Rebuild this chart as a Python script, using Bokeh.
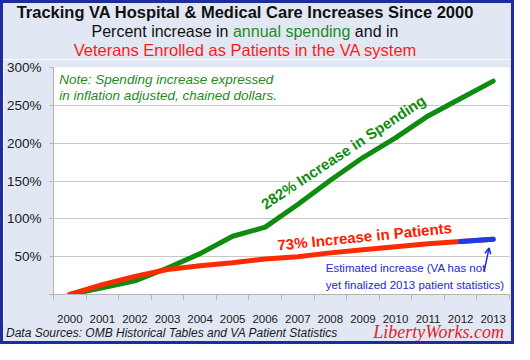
from bokeh.plotting import figure
from bokeh.models import FixedTicker, Label, Arrow, OpenHead, Div
from bokeh.layouts import column, row
from bokeh.embed import file_html
from bokeh.resources import INLINE

years = [2000, 2001, 2002, 2003, 2004, 2005, 2006, 2007, 2008, 2009, 2010, 2011, 2012, 2013]
spending = [0, 9, 18, 35, 54, 77, 89, 119, 151, 181, 207, 236, 259, 282]
patients = [0, 13, 24, 33, 38, 42, 47, 50, 55, 59, 63, 67, 70, 73]
est_years = [2012, 2013]
est_patients = [70, 73]
y_ticks = [0, 50, 100, 150, 200, 250, 300]
y_tick_labels = ["", "50%", "100%", "150%", "200%", "250%", "300%"]

FONT = "Liberation Sans"
BG = "#e2e8f3"
EDGE = "#1f2d9c"
BW = 3
TOTAL_W, TOTAL_H = 514, 344
IW, IH = TOTAL_W - 2 * BW, TOTAL_H - 2 * BW
TITLE_H, FOOT_H = 56, 16
W, H = IW, IH - TITLE_H - FOOT_H
L, R, T, B = 45, 506, 8, 238

title_html = (
    f'<div style="width:{IW - 12}px;padding-right:12px;text-align:center;font-family:\'{FONT}\';padding-top:0px;">'
    '<div style="font-size:16.5px;font-weight:bold;line-height:19px;color:#111;">'
    'Tracking VA Hospital &amp; Medical Care Increases Since 2000</div>'
    '<div style="font-size:16px;line-height:19px;color:#111;">Percent increase in '
    '<span style="color:#1e8c1e;">annual spending</span> and in</div>'
    '<div style="font-size:16.5px;line-height:19px;color:#ff1a1a;">'
    'Veterans Enrolled as Patients in the VA system</div></div>'
)
title_div = Div(text=title_html, width=IW, height=TITLE_H, margin=0,
                styles={"background-color": BG})

foot_html = (
    f'<div style="width:{IW}px;height:{FOOT_H}px;position:relative;">'
    f'<span style="position:absolute;left:3px;top:1px;line-height:14px;font-family:\'{FONT}\';'
    'font-style:italic;font-size:12px;color:#1a1a1a;">'
    'Data Sources: OMB Historical Tables and VA Patient Statistics</span>'
    '<span style="position:absolute;right:7px;top:-3px;line-height:20px;font-family:\'Liberation Serif\';'
    'font-style:italic;font-size:18px;color:#e8202a;">LibertyWorks.com</span></div>'
)
foot_div = Div(text=foot_html, width=IW, height=FOOT_H, margin=0,
               styles={"background-color": BG})

p = figure(width=W, height=H, output_backend="svg", toolbar_location=None,
           x_range=(years[0] - 0.5, years[-1] + 0.5), y_range=(0, 300),
           min_border_left=L, min_border_right=W - R, min_border_top=T,
           min_border_bottom=H - B,
           background_fill_color="white", border_fill_color=BG,
           outline_line_color=None)

# x axis: labels at category centres, tick marks at category boundaries
p.xaxis.ticker = FixedTicker(ticks=years, minor_ticks=[y - 0.5 for y in years] + [years[-1] + 0.5])
p.xaxis.major_label_overrides = {y: str(y) for y in years}
p.xaxis.major_tick_out = 0
p.xaxis.major_tick_in = 0
p.xaxis.minor_tick_out = 5
p.xaxis.minor_tick_in = 0
p.xaxis.minor_tick_line_color = "#b4b4b4"
p.xaxis.axis_line_color = "#b4b4b4"
p.xaxis.major_label_standoff = 15
p.xaxis.major_label_text_font = FONT
p.xaxis.major_label_text_font_size = "11.5px"
p.xaxis.major_label_text_color = "#1a1a1a"

# y axis
p.yaxis.ticker = FixedTicker(ticks=y_ticks)
p.yaxis.major_label_overrides = dict(zip(y_ticks, y_tick_labels))
p.yaxis.major_tick_out = 4
p.yaxis.major_tick_in = 0
p.yaxis.minor_tick_line_color = None
p.yaxis.major_tick_line_color = "#b4b4b4"
p.yaxis.axis_line_color = "#b4b4b4"
p.yaxis.major_label_standoff = 8
p.yaxis.major_label_text_font = FONT
p.yaxis.major_label_text_font_size = "13.5px"
p.yaxis.major_label_text_color = "#1a1a1a"

p.xgrid.visible = False
p.ygrid.grid_line_color = "#c8c8c8"

p.line(years, spending, line_color="#0f8c0f", line_width=5, line_cap="round", line_join="round")
p.line(years, patients, line_color="#ff2a00", line_width=5, line_cap="round", line_join="round")
p.line(est_years, est_patients, line_color="#1e3ce6", line_width=5, line_cap="round")

# reference-chart pixel -> data coordinates
def ref_x(px):
    return years[0] - 0.5 + (px - 53) / 33.5

def ref_y(py):
    return (307 - py) / 0.78

def lab(x, y, text, color, size, style="normal", align="left", angle=0, font=FONT):
    p.add_layout(Label(x=x, y=y, text=text, text_color=color, text_font_size=size,
                       text_font_style=style, text_align=align, text_baseline="middle",
                       angle=angle, text_font=font))

lab(ref_x(59), ref_y(85), "Note: Spending increase expressed", "#1e8c1e", "13.5px", "italic")
lab(ref_x(59), ref_y(102), "in inflation adjusted, chained dollars.", "#1e8c1e", "13.5px", "italic")
lab(ref_x(351), ref_y(160), "282% Increase in Spending", "#0f8c0f", "15px", "bold", "center", 0.585)
lab(ref_x(373), ref_y(247), "73% Increase in Patients", "#ff1a00", "15px", "bold", "center", 0.10)
lab(ref_x(333), ref_y(280), "Estimated increase (VA has not", "#2626d9", "11.5px")
lab(ref_x(333), ref_y(297), "yet finalized 2013 patient statistics)", "#2626d9", "11.5px")

p.add_layout(Arrow(x_start=ref_x(496), y_start=ref_y(283), x_end=ref_x(501), y_end=ref_y(259),
                   line_color="#2626d9", line_width=1.5,
                   end=OpenHead(size=6, line_color="#2626d9", line_width=1.5)))

def bar(w, h):
    return Div(text="", width=w, height=h, margin=0, styles={"background-color": EDGE})

inner = column(title_div, p, foot_div, width=IW, height=IH, spacing=0)
middle = row(bar(BW, IH), inner, bar(BW, IH), width=TOTAL_W, height=IH, spacing=0)
layout = column(bar(TOTAL_W, BW), middle, bar(TOTAL_W, BW), width=TOTAL_W, height=TOTAL_H, spacing=0)

open("out.html", "w").write(file_html(layout, INLINE))
